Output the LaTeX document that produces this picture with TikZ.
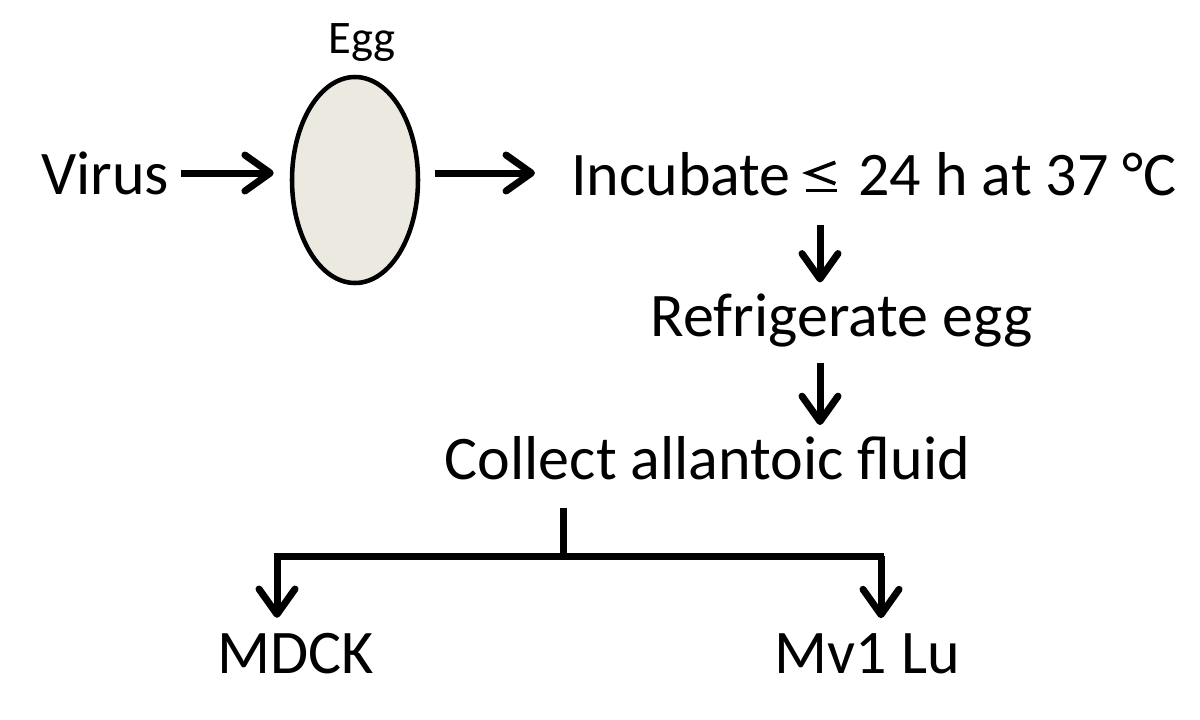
\documentclass[tikz,border=0pt]{standalone}
\usepackage{fontspec}
\setmainfont{Carlito}
\usetikzlibrary{arrows.meta,shapes.geometric}
\definecolor{eggfill}{RGB}{236,233,224}
\newcommand{\myleq}{\tikz[baseline=0pt,x=1pt,y=1pt]{\draw[line width=2.8pt,line cap=butt,line join=miter] (22.5,24.5) -- (1.5,16.5) -- (22.5,8.5); \fill (0.5,2.3) rectangle (23.5,4.7);}}
\tikzset{
  txt/.style={inner sep=0pt, anchor=base, font=\fontsize{46.5}{56}\selectfont},
  smalltxt/.style={inner sep=0pt, anchor=base, font=\fontsize{35}{42}\selectfont},
  conn/.style={line width=5.25pt},
  arr/.style={conn, -{Straight Barb[length=19pt,width=27pt,round]}},
  eggshape/.style={ellipse, draw, line width=3.4pt, fill=eggfill, minimum width=94.5pt, minimum height=154.5pt, inner sep=0pt}
}
\begin{document}
\begin{tikzpicture}[x=0.75pt,y=-0.75pt]
\useasboundingbox (0,0) rectangle (1200,719);
\node[txt] (virus) at (105,194) {Virus};
\node[smalltxt] (egglbl) at (362,53) {Egg};
\node[eggshape] (egg) at (355,180) {};
\node[txt] (incub) at (874,195) {Incubate\hspace{11pt}\myleq\hspace{16pt}24 h at 37 °C};
\node[txt] (refrig) at (841.5,336) {Refrigerate egg};
\node[txt] (collect) at (707.5,479) {Collect allantoic fluid};
\node[txt] (mdck) at (296,673) {MDCK};
\node[txt] (mvlu) at (867.5,673) {Mv1 Lu};
\coordinate (branch) at (563,556);
\coordinate (bl) at (277,556);
\coordinate (br) at (881,556);
\coordinate (dx) at (820,0);
% arrows
\draw[arr, shorten <=9pt, shorten >=12pt] (virus.east |- 0,173) -- (egg.west |- 0,173);
\draw[arr, shorten <=11pt, shorten >=27pt] (egg.east |- 0,173) -- (incub.west |- 0,173);
\draw[arr, shorten <=22pt, shorten >=8pt] (incub.south -| dx) -- (refrig.north -| dx);
\draw[arr, shorten <=12pt, shorten >=8pt] (refrig.south -| dx) -- (collect.north -| dx);
\draw[conn, shorten <=21pt] (collect.south -| branch) -- (branch);
\draw[conn] ([xshift=-2.6pt]bl) -- ([xshift=2.6pt]br);
\draw[arr, shorten >=11pt] (bl) -- (bl |- mdck.north);
\draw[arr, shorten >=11pt] (br) -- (br |- mvlu.north);
\end{tikzpicture}
\end{document}
